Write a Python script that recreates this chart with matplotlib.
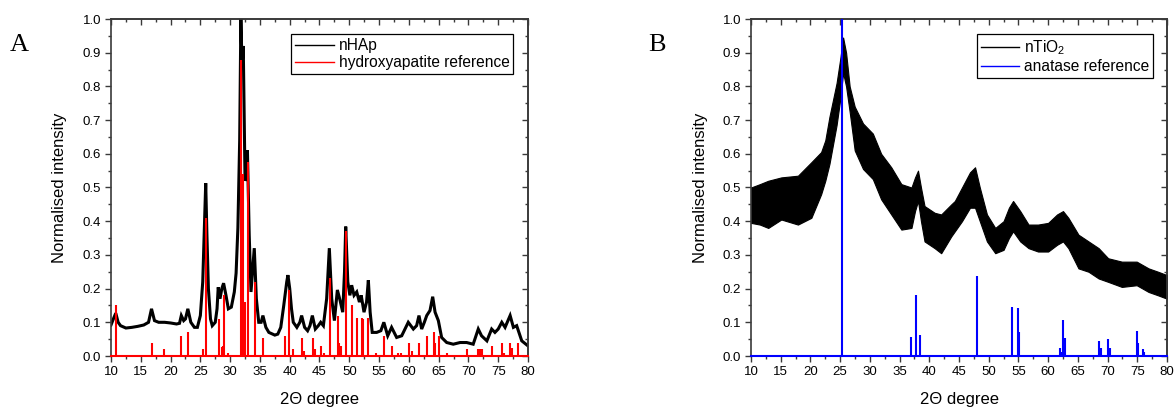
import matplotlib
matplotlib.use('Agg')
import matplotlib.pyplot as plt
from matplotlib.ticker import MultipleLocator, FormatStrFormatter
from matplotlib.lines import Line2D

plt.rcParams['font.family'] = ['Liberation Sans', 'DejaVu Sans']
plt.rcParams['mathtext.fontset'] = 'custom'
plt.rcParams['mathtext.rm'] = 'Liberation Sans'

# ---------------- Panel A data: nHAp pattern ----------------
hap_x = [10.0, 10.4, 10.8, 11.2, 11.6, 12.5, 13.5, 14.5, 15.5, 16.3, 16.8, 17.3, 18.0,
         19.0, 20.0, 21.0, 21.5, 21.8, 22.2, 22.5, 22.9, 23.4, 24.0, 24.5, 25.0, 25.4,
         25.7, 25.9, 26.1, 26.35, 26.7, 27.0, 27.5, 27.8, 28.0, 28.3, 28.6, 28.9, 29.3,
         29.7, 30.2, 30.7, 31.0, 31.3, 31.6, 31.8, 32.0, 32.2, 32.5, 32.7, 32.9, 33.2,
         33.5, 33.8, 34.05, 34.4, 34.8, 35.2, 35.5, 36.0, 36.5, 37.5, 38.0, 38.5, 39.0,
         39.5, 39.7, 40.0, 40.3, 40.6, 41.2, 41.7, 42.0, 42.5, 43.0, 43.4, 43.8, 44.3,
         44.8, 45.2, 45.65, 46.2, 46.65, 47.05, 47.5, 48.0, 48.45, 48.9, 49.2, 49.4,
         49.75, 50.1, 50.4, 50.8, 51.25, 51.7, 52.0, 52.47, 52.9, 53.2, 53.5, 53.85,
         54.6, 55.3, 55.8, 56.45, 57.1, 57.95, 58.8, 59.9, 60.75, 61.3, 61.7, 62.15,
         62.6, 63.0, 63.55, 64.0, 64.4, 64.95, 65.5, 66.35, 67.45, 68.6, 69.7, 70.8,
         71.65, 72.2, 73.1, 73.9, 74.45, 75.0, 75.6, 76.15, 77.0, 77.55, 78.1, 78.95, 80.0]
hap_y = [0.092, 0.11, 0.127, 0.10, 0.09, 0.083, 0.085, 0.088, 0.092, 0.10, 0.14, 0.105, 0.10,
         0.10, 0.098, 0.095, 0.097, 0.12, 0.105, 0.11, 0.14, 0.10, 0.085, 0.085, 0.12, 0.22,
         0.40, 0.513, 0.36, 0.20, 0.11, 0.09, 0.10, 0.14, 0.204, 0.17, 0.20, 0.216, 0.18,
         0.14, 0.145, 0.19, 0.246, 0.38, 0.64, 1.0, 0.86, 0.92, 0.52, 0.53, 0.61, 0.36,
         0.19, 0.26, 0.32, 0.17, 0.10, 0.10, 0.12, 0.085, 0.07, 0.062, 0.065, 0.085, 0.15,
         0.22, 0.24, 0.20, 0.14, 0.10, 0.085, 0.10, 0.12, 0.085, 0.075, 0.09, 0.12, 0.08,
         0.09, 0.10, 0.09, 0.17, 0.32, 0.17, 0.105, 0.196, 0.165, 0.13, 0.25, 0.384,
         0.22, 0.18, 0.21, 0.18, 0.19, 0.16, 0.18, 0.13, 0.16, 0.225, 0.13, 0.07,
         0.07, 0.075, 0.10, 0.06, 0.085, 0.055, 0.06, 0.10, 0.08, 0.09, 0.12, 0.08,
         0.10, 0.12, 0.135, 0.176, 0.13, 0.105, 0.055, 0.04, 0.035, 0.04, 0.04, 0.035,
         0.08, 0.06, 0.045, 0.08, 0.07, 0.08, 0.10, 0.085, 0.12, 0.085, 0.09, 0.045, 0.03]

# hydroxyapatite reference sticks
hap_ref_x = [10.8, 16.83, 18.84, 21.75, 22.9, 25.45, 25.9, 28.08, 28.58, 28.8, 28.97, 29.6,
             31.82, 32.2, 32.44, 32.95, 34.1, 35.5, 39.16, 39.88, 40.55, 42.0, 42.35, 43.86,
             44.2, 45.3, 45.7, 46.72, 48.1, 48.3, 48.55, 49.45, 50.5, 51.3, 52.08, 52.3,
             53.2, 54.5, 55.9, 57.17, 58.2, 58.7, 59.97, 60.58, 61.7, 63.05, 64.17, 64.45,
             65.0, 66.45, 69.7, 71.6, 71.9, 72.3, 74.0, 75.6, 75.9, 77.0, 77.3, 78.35]
hap_ref_y = [0.15, 0.04, 0.021, 0.06, 0.071, 0.02, 0.41, 0.11, 0.028, 0.03, 0.18, 0.01,
             0.878, 0.54, 0.16, 0.575, 0.22, 0.052, 0.06, 0.195, 0.02, 0.052, 0.015, 0.052,
             0.02, 0.03, 0.01, 0.23, 0.12, 0.04, 0.03, 0.372, 0.151, 0.112, 0.112, 0.11,
             0.112, 0.01, 0.058, 0.03, 0.01, 0.01, 0.04, 0.015, 0.04, 0.06, 0.07, 0.04,
             0.06, 0.01, 0.02, 0.02, 0.02, 0.02, 0.03, 0.04, 0.01, 0.04, 0.025, 0.04]

# ---------------- Panel B data: nTiO2 pattern (noisy band envelope) ----------------
tio2_x = [10.0, 11.5, 12.9, 15.1, 17.9, 20.15, 21.8, 22.5, 23.2, 24.4, 25.0, 25.5, 26.0,
          26.6, 27.45, 28.85, 30.5, 31.9, 33.6, 35.3, 37.0, 37.6, 38.1, 38.6, 39.2, 40.9,
          42.0, 43.7, 44.3, 45.5, 46.85, 47.7, 48.5, 49.7, 51.1, 52.5, 53.4, 54.1, 55.3,
          56.7, 58.3, 60.0, 61.5, 62.5, 63.4, 65.1, 66.8, 68.5, 70.1, 72.4, 74.9, 76.9,
          78.5, 80.0]
tio2_upper = [0.50, 0.51, 0.52, 0.53, 0.535, 0.575, 0.605, 0.64, 0.71, 0.81, 0.88, 0.945,
              0.90, 0.80, 0.74, 0.69, 0.66, 0.60, 0.56, 0.51, 0.50, 0.53, 0.55, 0.50, 0.445,
              0.425, 0.42, 0.45, 0.46, 0.50, 0.545, 0.56, 0.50, 0.42, 0.38, 0.40, 0.44,
              0.46, 0.43, 0.39, 0.39, 0.395, 0.42, 0.43, 0.41, 0.36, 0.34, 0.32, 0.29,
              0.28, 0.28, 0.26, 0.25, 0.24]
tio2_lower = [0.395, 0.39, 0.38, 0.405, 0.39, 0.41, 0.48, 0.52, 0.57, 0.685, 0.76, 0.84,
              0.80, 0.725, 0.61, 0.555, 0.525, 0.465, 0.42, 0.375, 0.38, 0.43, 0.46, 0.40,
              0.34, 0.32, 0.305, 0.355, 0.37, 0.40, 0.44, 0.44, 0.40, 0.34, 0.305, 0.315,
              0.35, 0.37, 0.34, 0.32, 0.31, 0.31, 0.33, 0.34, 0.32, 0.26, 0.25, 0.23, 0.22,
              0.205, 0.21, 0.19, 0.18, 0.17]

# anatase reference sticks
ana_ref_x = [25.28, 36.9, 37.7, 38.45, 47.98, 53.87, 54.93, 55.1, 61.94, 62.16, 62.55,
             62.83, 68.6, 68.9, 70.12, 70.4, 74.9, 75.15, 75.9, 76.1]
ana_ref_y = [1.0, 0.057, 0.181, 0.062, 0.237, 0.146, 0.141, 0.072, 0.023, 0.013, 0.107,
             0.054, 0.045, 0.025, 0.05, 0.025, 0.074, 0.04, 0.02, 0.012]

labels_A = ['nHAp', 'hydroxyapatite reference']
labels_B = ['nTiO$_\\mathregular{2}$', 'anatase reference']
xlabel = '2\u0398 degree'
ylabel = 'Normalised intensity'

SPINE = '#3a3a3a'

fig = plt.figure(figsize=(11.76, 4.11), dpi=100)
axA = fig.add_axes([111 / 1176, 1 - 356 / 411, 417 / 1176, 337 / 411])
axB = fig.add_axes([751 / 1176, 1 - 356 / 411, 416 / 1176, 337 / 411])


def style(ax):
    ax.set_xlim(10, 80)
    ax.set_ylim(0, 1)
    ax.xaxis.set_major_locator(MultipleLocator(5))
    ax.xaxis.set_minor_locator(MultipleLocator(2.5))
    ax.yaxis.set_major_locator(MultipleLocator(0.1))
    ax.yaxis.set_minor_locator(MultipleLocator(0.05))
    ax.yaxis.set_major_formatter(FormatStrFormatter('%.1f'))
    ax.tick_params(which='major', direction='out', length=4.5, width=1.0, color=SPINE,
                   labelsize=9.5, pad=2.5)
    ax.tick_params(which='minor', direction='out', length=2.5, width=1.0, color=SPINE)
    for s in ax.spines.values():
        s.set_color(SPINE)
        s.set_linewidth(1.2)
    secx = ax.secondary_xaxis('top')
    secx.xaxis.set_major_locator(MultipleLocator(5))
    secx.xaxis.set_minor_locator(MultipleLocator(2.5))
    secx.tick_params(which='major', direction='in', length=4.5, width=1.0, color=SPINE, labeltop=False)
    secx.tick_params(which='minor', direction='in', length=2.5, width=1.0, color=SPINE)
    secx.spines['top'].set_color(SPINE)
    secx.spines['top'].set_linewidth(1.2)
    secy = ax.secondary_yaxis('right')
    secy.yaxis.set_major_locator(MultipleLocator(0.1))
    secy.yaxis.set_minor_locator(MultipleLocator(0.05))
    secy.tick_params(which='major', direction='in', length=4.5, width=1.0, color=SPINE, labelright=False)
    secy.tick_params(which='minor', direction='in', length=2.5, width=1.0, color=SPINE)
    secy.spines['right'].set_color(SPINE)
    secy.spines['right'].set_linewidth(1.2)
    ax.set_xlabel(xlabel, fontsize=12, labelpad=10)
    ax.set_ylabel(ylabel, fontsize=12, labelpad=11)


# Panel A
axA.plot(hap_x, hap_y, color='black', lw=2.2, solid_joinstyle='miter', zorder=2)
axA.vlines(hap_ref_x, 0, hap_ref_y, color='red', lw=1.5, zorder=3)
axA.axhline(0, color='red', lw=1.5, zorder=4, clip_on=False)
style(axA)
hA = [Line2D([], [], color='black', lw=1.0), Line2D([], [], color='red', lw=1.0)]
legA = axA.legend(hA, labels_A, loc='upper right', bbox_to_anchor=(0.965, 0.955), fontsize=11.2,
                  frameon=True, fancybox=False, edgecolor='black', framealpha=1,
                  handlelength=2.5, handletextpad=0.3, labelspacing=0.15, borderpad=0.25,
                  borderaxespad=0)
legA.get_frame().set_linewidth(0.9)

# Panel B
axB.fill_between(tio2_x, tio2_lower, tio2_upper, color='black', lw=0.8, zorder=2)
axB.vlines(ana_ref_x, 0, ana_ref_y, color='#0000ff', lw=1.5, zorder=3)
axB.axhline(0, color='#0000ff', lw=1.5, zorder=4, clip_on=False)
style(axB)
hB = [Line2D([], [], color='black', lw=1.0), Line2D([], [], color='#0000ff', lw=1.0)]
legB = axB.legend(hB, labels_B, loc='upper right', bbox_to_anchor=(0.967, 0.955), fontsize=11.2,
                  frameon=True, fancybox=False, edgecolor='black', framealpha=1,
                  handlelength=2.5, handletextpad=0.3, labelspacing=0.15, borderpad=0.25,
                  borderaxespad=0)
legB.get_frame().set_linewidth(0.9)

fig.text(10 / 1176, 1 - 45 / 411, 'A', family='Liberation Serif', fontsize=19, va='center', ha='left')
fig.text(648 / 1176, 1 - 45 / 411, 'B', family='Liberation Serif', fontsize=19, va='center', ha='left')

fig.savefig('out.png', dpi=100)
